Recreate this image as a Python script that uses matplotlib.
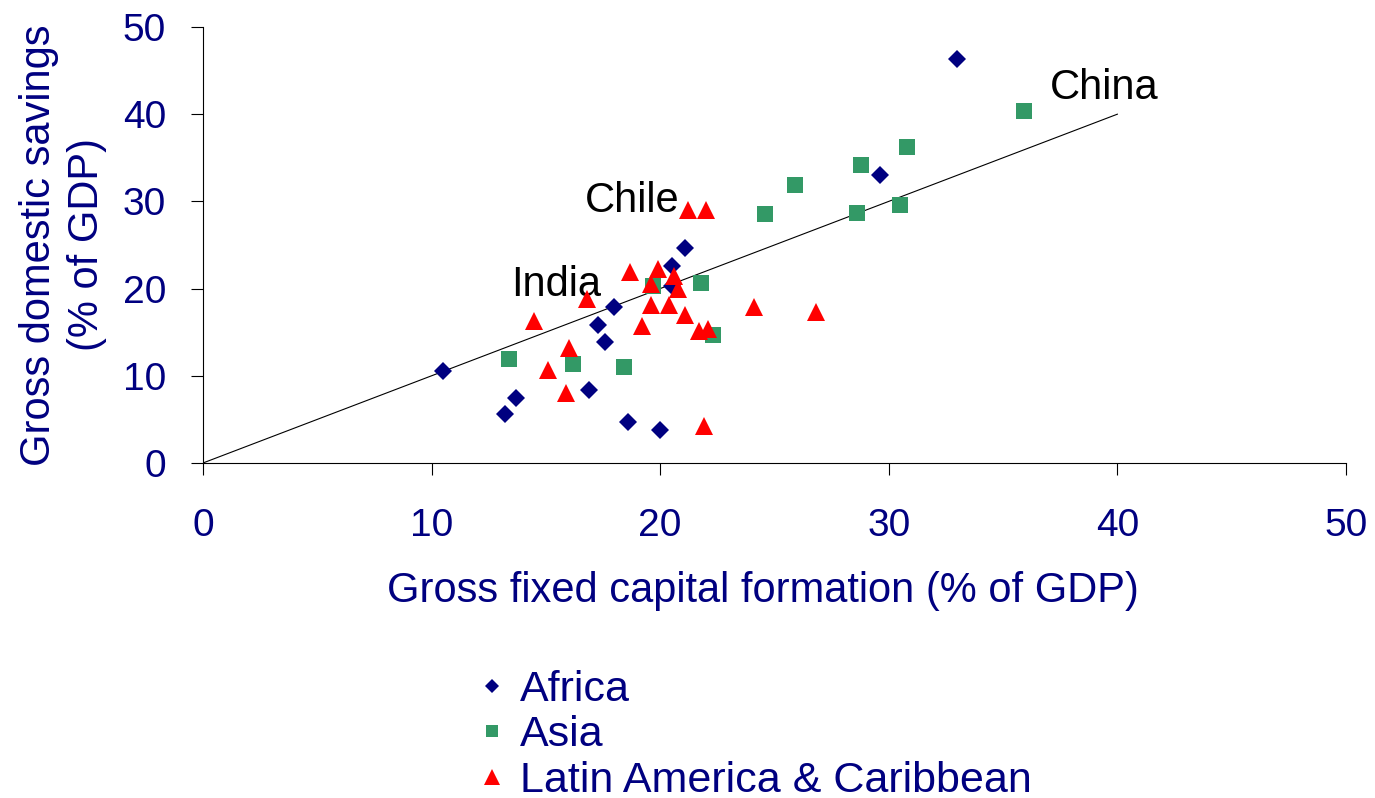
import numpy as np
import matplotlib
matplotlib.use('Agg')
import matplotlib.pyplot as plt
from matplotlib.lines import Line2D

# 数据
africa_x = [10.5, 13.2, 13.7, 16.9, 18.6, 20.0, 17.3, 17.6, 18.0, 20.5, 21.1, 20.5, 29.6, 33.0]
africa_y = [10.6, 5.6, 7.4, 8.4, 4.7, 3.8, 15.8, 13.9, 17.9, 22.6, 24.7, 20.3, 33.0, 46.3]

asia_x = [13.4, 16.2, 18.4, 22.3, 21.8, 19.7, 24.6, 25.9, 28.8, 28.6, 30.5, 30.8, 35.9]
asia_y = [11.9, 11.3, 11.0, 14.7, 20.6, 20.3, 28.6, 31.9, 34.2, 28.7, 29.6, 36.2, 40.4]

latam_x = [14.5, 16.8, 16.0, 15.1, 15.9, 18.7, 19.9, 19.6, 19.6, 19.2, 20.6,
           20.8, 20.4, 21.1, 21.7, 22.1, 21.2, 22.0, 24.1, 26.8, 21.9]
latam_y = [16.3, 18.8, 13.2, 10.7, 8.0, 21.9, 22.2, 20.5, 18.1, 15.7, 21.4,
           20.0, 18.1, 17.0, 15.1, 15.4, 29.0, 29.0, 17.9, 17.3, 4.2]

line_x = [0, 40]
line_y = [0, 40]

labels = ['China', 'Chile', 'India']
label_x = [37.05, 16.7, 13.5]
label_y = [43.0, 30.0, 20.4]

ticks = [0, 10, 20, 30, 40, 50]

NAVY = '#000080'
GREEN = '#339966'
RED = '#FF0000'

plt.rcParams['font.family'] = ['Liberation Sans', 'DejaVu Sans']

fig = plt.figure(figsize=(13.75, 7.98), dpi=100)
ax = fig.add_axes([0.1476, 0.4198, 0.8313, 0.5464])

ax.plot(line_x, line_y, color='black', lw=0.8, zorder=1)
ax.plot(africa_x, africa_y, 'D', color=NAVY, ms=9.5, mew=0, zorder=2)
ax.plot(asia_x, asia_y, 's', color=GREEN, ms=11, mew=0, zorder=3)
ax.plot(latam_x, latam_y, '^', color=RED, ms=13.5, mew=0, zorder=4)

for t, x, y in zip(labels, label_x, label_y):
    ax.text(x, y, t, fontsize=30, color='black', ha='left', va='center', zorder=3)

ax.set_xlim(0, 50)
ax.set_ylim(0, 50)
ax.set_xticks(ticks)
ax.set_yticks(ticks)
ax.spines['top'].set_visible(False)
ax.spines['right'].set_visible(False)
ax.spines['left'].set_linewidth(0.8)
ax.spines['bottom'].set_linewidth(0.8)
ax.tick_params(axis='both', direction='out', length=8.5, width=0.8,
               labelsize=28, labelcolor=NAVY)
ax.tick_params(axis='x', pad=24)
ax.tick_params(axis='y', pad=18)

ax.set_xlabel('Gross fixed capital formation (% of GDP)', fontsize=30, color=NAVY)
ax.xaxis.set_label_coords(0.49, -0.2477)
ax.set_ylabel('Gross domestic savings\n(% of GDP)', fontsize=30, color=NAVY,
              linespacing=1.25)
ax.yaxis.set_label_coords(-0.084, 0.5)

handles = [
    Line2D([], [], ls='none', marker='D', color=NAVY, ms=7.5, mew=0),
    Line2D([], [], ls='none', marker='s', color=GREEN, ms=9, mew=0),
    Line2D([], [], ls='none', marker='^', color=RED, ms=11, mew=0),
]
fig.legend(handles, ['Africa', 'Asia', 'Latin America & Caribbean'],
           loc='upper left', bbox_to_anchor=(0.3455, 0.160), frameon=False,
           fontsize=31, labelcolor=NAVY, handlelength=0.8, handletextpad=0.25,
           labelspacing=0.12, borderpad=0, borderaxespad=0)

fig.savefig('out.png', dpi=100)
